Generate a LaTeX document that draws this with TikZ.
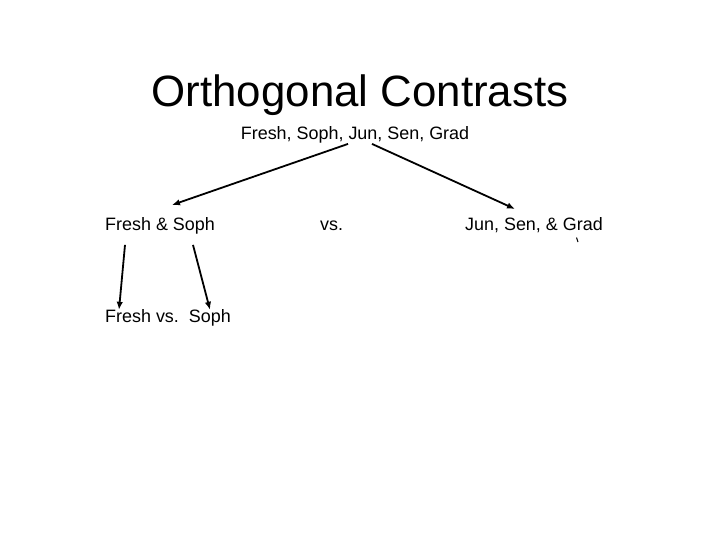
\documentclass[tikz,border=0pt]{standalone}
\usepackage{fontspec}
\setmainfont{Liberation Sans}
\usetikzlibrary{arrows.meta}

\begin{document}
\begin{tikzpicture}[x=1bp,y=-1bp,
    lbl/.style={font=\fontsize{18}{21}\selectfont, inner sep=2bp, anchor=base west},
    arr/.style={-{Latex[length=8bp,width=6.5bp]}, line width=1.8bp}]
      % 画布
      \useasboundingbox (0,0) rectangle (720,540);

      % 标题
      \node[font=\fontsize{44}{50}\selectfont, anchor=base] (title) at (360,107) {Orthogonal Contrasts};

      % 全部组
      \node[lbl, anchor=base] (all) at (355,140) {Fresh, Soph, Jun, Sen, Grad};

      % 第一个对比
      \node[lbl] (fs) at (103,231) {Fresh \& Soph};
      \node[lbl] (vs) at (318,231) {vs.};
      \node[lbl] (jsg) at (463,231) {Jun, Sen, \& Grad};

      % 第二个对比
      \node[lbl] (fvs) at (103,322) {Fresh vs.\ \ Soph};

      % 箭头
      \coordinate (fsin) at (172,205);
      \coordinate (jsgin) at (515,209);
      \draw[arr] ([xshift=-7bp,yshift=2bp]all.south) -- (fsin);
      \draw[arr] ([xshift=17bp,yshift=2bp]all.south) -- (jsgin);

      \draw[arr] ([xshift=22bp,yshift=-8bp]fs.south west) -- ([xshift=16bp,yshift=-3bp]fvs.north west);
      \draw[arr] ([xshift=90bp,yshift=-8bp]fs.south west) -- ([xshift=107bp,yshift=-3bp]fvs.north west);

      % 小记号
      \draw[line width=1bp] (576.5,237.5) -- (578,242);
\end{tikzpicture}
\end{document}
